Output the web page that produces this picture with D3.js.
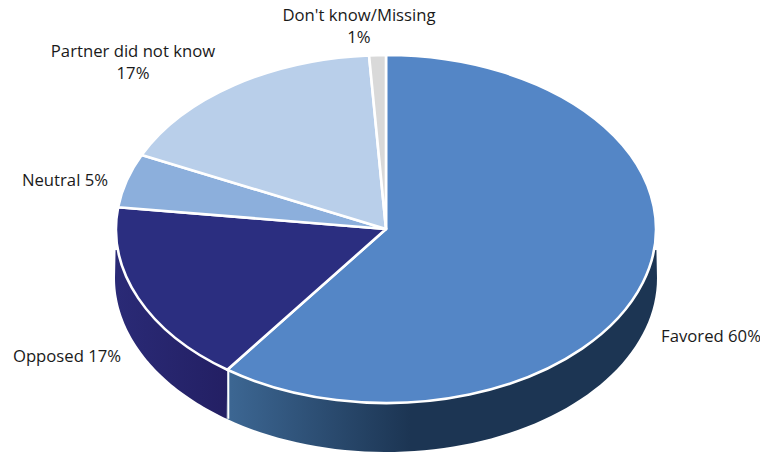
<!DOCTYPE html>
<html><head><meta charset="utf-8">
<script src="https://cdn.jsdelivr.net/npm/d3@7"></script>
<style>html,body{margin:0;padding:0;background:#fff}svg{display:block}text{font-family:"Open Sans",sans-serif;font-size:16.7px;fill:#1a1a1a}</style>
</head><body><svg id="c" width="760" height="452"></svg>
<script>
const categories = ["Favored","Opposed","Neutral","Partner did not know","Don't know/Missing"];
const values = [60,17,5,17,1];
const topColors = ["#5486c6","#2b2e80","#8cafdc","#b9cfea","#d9d9d9"];
const labelLines = [["Favored 60%"],["Opposed 17%"],["Neutral 5%"],["Partner did not know","17%"],["Don't know/Missing","1%"]];
const labelAnchors = [[711,342],[67,362],[65,186],[133,57],[359,21]];

const cx=386, cy=229, rx=270, ry=174, depth=49, wallTop=250;
const svg=d3.select("#c");
const defs=svg.append("defs");
const pie=d3.pie().sort(null).value(d=>d)(values);
const px=(a,r=rx)=>cx+r*Math.sin(a), py=(a,off=0)=>cy+off-ry*Math.cos(a);

const g=defs.append("linearGradient").attr("id","favWall").attr("gradientUnits","userSpaceOnUse")
 .attr("x1",231).attr("x2",410).attr("y1",0).attr("y2",0);
g.append("stop").attr("offset",0).attr("stop-color","#3c6692");
g.append("stop").attr("offset",1).attr("stop-color","#1c3553");
const g2=defs.append("linearGradient").attr("id","oppWall").attr("gradientUnits","userSpaceOnUse")
 .attr("x1",116).attr("x2",231).attr("y1",0).attr("y2",0);
g2.append("stop").attr("offset",0).attr("stop-color","#2a2a76");
g2.append("stop").attr("offset",1).attr("stop-color","#231f63");
defs.append("clipPath").attr("id","wc").append("rect").attr("x",0).attr("y",wallTop).attr("width",760).attr("height",202);

// side walls (only the front half of the disc shows them)
const front=[Math.PI/2,Math.PI*1.5];
const walls=svg.append("g").attr("clip-path","url(#wc)");
const wallFills=["url(#favWall)","url(#oppWall)"];
pie.slice(0,2).forEach((s,i)=>{
  const a0=Math.max(s.startAngle,front[0]), a1=Math.min(s.endAngle,front[1]);
  const as=d3.range(0,61).map(k=>a0+(a1-a0)*k/60);
  const line=d3.line();
  const pts=as.map(a=>[px(a),py(a)]).concat(as.slice().reverse().map(a=>[px(a,rx+1),py(a,depth)]));
  walls.append("path").attr("d",line(pts)+"Z").attr("fill",wallFills[i]);
});
// white seam between the two walls
const seam=pie[0].endAngle;
walls.append("line").attr("x1",px(seam)+1).attr("x2",px(seam)+1).attr("y1",py(seam)).attr("y2",py(seam,depth))
 .attr("stroke","#fff").attr("stroke-width",2);

// top face
const arc=d3.arc().innerRadius(0).outerRadius(rx);
svg.append("g").attr("transform",`translate(${cx},${cy}) scale(1,${ry/rx})`)
 .selectAll("path").data(pie).join("path").attr("d",arc)
 .attr("fill",(d,i)=>topColors[i]).attr("stroke","#fff").attr("stroke-width",2.6)
 .attr("stroke-linejoin","round").attr("vector-effect","non-scaling-stroke");

// labels
labelLines.forEach((lines,i)=>{
  lines.forEach((t,j)=>{
    svg.append("text").attr("x",labelAnchors[i][0]).attr("y",labelAnchors[i][1]+j*22)
      .attr("text-anchor","middle").text(t);
  });
});
</script></body></html>
